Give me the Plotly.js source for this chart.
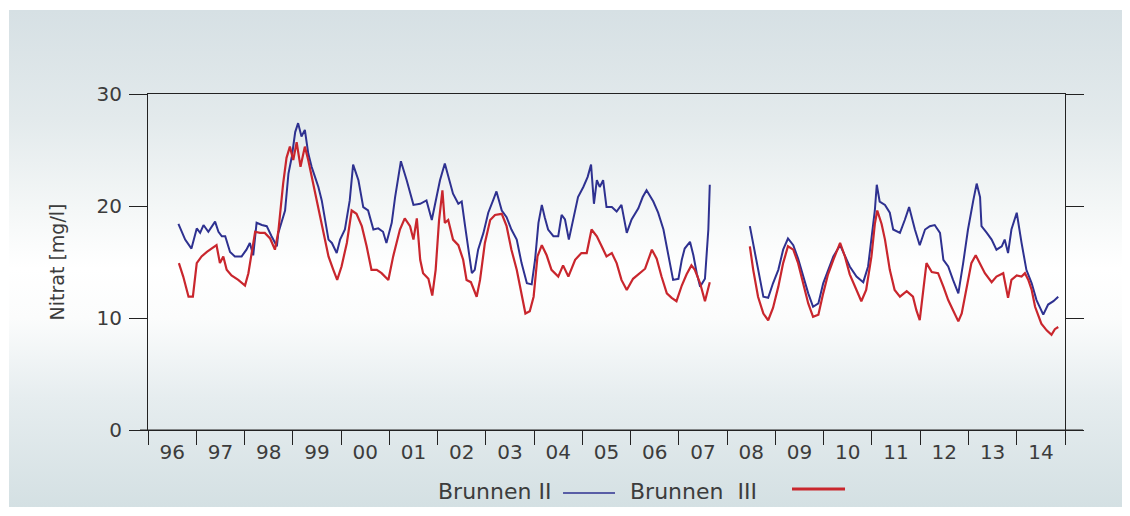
<!DOCTYPE html>
<html>
<head>
<meta charset="utf-8">
<script src="https://cdn.plot.ly/plotly-3.0.1.min.js"></script>
<style>
  html, body { margin:0; padding:0; background:#ffffff; }
  #wrap { position:relative; width:1130px; height:516px; background:#ffffff; }
  #bg { position:absolute; left:9px; top:10px; width:1113px; height:497px;
        background: linear-gradient(to bottom, #d6e0e4 0%, #e3eaec 22%, #f4f7f7 40%, #ffffff 52%, #fbfcfc 62%, #e6edef 78%, #d4e0e3 100%); }
  #chart { position:absolute; left:0; top:0; width:1130px; height:516px; }
</style>
</head>
<body>
<div id="wrap"><div id="bg"></div><div id="chart"></div></div>
<script>
// Decimal years and nitrate values (mg/l)
const blueYears = [1996.63,1996.77,1996.90,1997.01,1997.08,1997.15,1997.25,1997.32,1997.39,1997.46,1997.53,1997.60,1997.70,1997.80,1997.94,1998.04,1998.11,1998.18,1998.25,1998.36,1998.46,1998.56,1998.67,1998.70,1998.77,1998.84,1998.91,1998.98,1999.05,1999.11,1999.18,1999.25,1999.32,1999.39,1999.46,1999.53,1999.60,1999.67,1999.74,1999.81,1999.91,1999.98,2000.08,2000.18,2000.25,2000.36,2000.46,2000.56,2000.67,2000.77,2000.87,2000.94,2001.05,2001.12,2001.24,2001.36,2001.50,2001.64,2001.77,2001.88,2001.98,2002.05,2002.15,2002.22,2002.32,2002.43,2002.50,2002.57,2002.64,2002.71,2002.77,2002.84,2002.95,2003.05,2003.15,2003.22,2003.33,2003.43,2003.53,2003.64,2003.74,2003.85,2003.95,2004.02,2004.09,2004.16,2004.22,2004.29,2004.40,2004.50,2004.57,2004.64,2004.72,2004.81,2004.91,2005.02,2005.11,2005.18,2005.24,2005.30,2005.36,2005.43,2005.50,2005.61,2005.71,2005.81,2005.92,2006.02,2006.16,2006.25,2006.33,2006.47,2006.57,2006.68,2006.78,2006.88,2006.99,2007.06,2007.12,2007.23,2007.30,2007.37,2007.44,2007.54,2007.61,2007.64,2008.05,2008.47,2008.54,2008.64,2008.75,2008.85,2008.95,2009.06,2009.16,2009.26,2009.37,2009.47,2009.58,2009.68,2009.78,2009.89,2009.99,2010.09,2010.20,2010.34,2010.44,2010.54,2010.68,2010.82,2010.92,2010.99,2011.06,2011.10,2011.16,2011.27,2011.37,2011.44,2011.58,2011.68,2011.77,2011.89,2011.99,2012.10,2012.20,2012.30,2012.41,2012.48,2012.58,2012.68,2012.79,2012.89,2012.99,2013.10,2013.17,2013.24,2013.27,2013.38,2013.48,2013.58,2013.69,2013.75,2013.82,2013.89,2014.00,2014.10,2014.20,2014.31,2014.41,2014.55,2014.65,2014.76,2014.86];
const blueValues = [18.4,17.0,16.2,18.0,17.6,18.3,17.7,18.2,18.6,17.7,17.3,17.3,15.9,15.5,15.5,16.1,16.7,15.6,18.5,18.3,18.2,17.3,16.4,17.6,18.5,19.6,22.9,24.4,26.6,27.4,26.2,26.8,24.7,23.5,22.6,21.7,20.5,18.8,17.0,16.7,15.8,17.0,17.9,20.5,23.7,22.3,19.9,19.6,17.9,18.0,17.7,16.7,18.5,20.8,24.0,22.3,20.1,20.2,20.5,18.75,20.8,22.3,23.8,22.6,21.1,20.2,20.4,18.2,16.1,14.0,14.3,16.1,17.6,19.4,20.5,21.3,19.6,19.0,17.9,17.0,14.9,13.1,13.0,15.2,18.5,20.1,19.0,17.9,17.3,17.3,19.2,18.8,17.0,18.8,20.8,21.7,22.6,23.7,20.2,22.3,21.7,22.3,19.9,19.9,19.5,20.1,17.6,18.8,19.8,20.8,21.4,20.4,19.4,17.9,15.8,13.4,13.5,15.2,16.2,16.8,15.6,14.0,12.8,13.5,17.9,21.9,null,18.2,16.7,14.3,11.9,11.8,13.1,14.3,16.1,17.1,16.5,15.3,13.7,12.2,11.0,11.3,13.1,14.3,15.5,16.5,15.6,14.6,13.7,13.2,14.6,17.0,19.6,21.9,20.4,20.1,19.4,17.9,17.6,18.75,19.9,17.9,16.5,17.9,18.2,18.3,17.6,15.2,14.6,13.4,12.2,14.9,17.9,20.5,22.0,20.8,18.2,17.6,17.0,16.1,16.4,17.0,15.8,17.9,19.4,16.7,14.3,13.1,11.6,10.3,11.2,11.5,11.9];

const redYears = [1996.64,1996.73,1996.84,1996.93,1997.01,1997.11,1997.22,1997.32,1997.42,1997.49,1997.56,1997.63,1997.73,1997.87,1998.01,1998.08,1998.15,1998.22,1998.32,1998.42,1998.53,1998.63,1998.70,1998.80,1998.87,1998.94,1999.01,1999.08,1999.16,1999.25,1999.32,1999.42,1999.53,1999.63,1999.74,1999.84,1999.92,2000.01,2000.12,2000.22,2000.32,2000.43,2000.53,2000.63,2000.74,2000.84,2000.98,2001.08,2001.22,2001.32,2001.43,2001.50,2001.57,2001.64,2001.70,2001.81,2001.89,2001.96,2002.03,2002.10,2002.15,2002.22,2002.32,2002.43,2002.53,2002.60,2002.69,2002.81,2002.88,2002.98,2003.09,2003.19,2003.33,2003.43,2003.53,2003.64,2003.74,2003.82,2003.91,2003.99,2004.07,2004.16,2004.26,2004.36,2004.50,2004.60,2004.71,2004.85,2004.98,2005.09,2005.19,2005.30,2005.40,2005.50,2005.61,2005.71,2005.81,2005.92,2006.05,2006.19,2006.30,2006.44,2006.54,2006.64,2006.75,2006.85,2006.95,2007.06,2007.16,2007.26,2007.33,2007.44,2007.54,2007.64,2008.05,2008.47,2008.54,2008.64,2008.75,2008.85,2008.95,2009.06,2009.16,2009.26,2009.37,2009.47,2009.58,2009.68,2009.78,2009.89,2009.99,2010.09,2010.20,2010.34,2010.44,2010.54,2010.68,2010.78,2010.88,2010.99,2011.06,2011.11,2011.20,2011.27,2011.37,2011.47,2011.58,2011.72,2011.85,2011.92,2011.99,2012.06,2012.13,2012.24,2012.37,2012.48,2012.58,2012.68,2012.79,2012.86,2012.96,2013.06,2013.15,2013.24,2013.34,2013.48,2013.58,2013.72,2013.82,2013.89,2014.00,2014.10,2014.17,2014.24,2014.31,2014.38,2014.51,2014.62,2014.72,2014.79,2014.86];
const redValues = [14.9,13.7,11.9,11.9,14.9,15.5,15.9,16.2,16.5,14.9,15.5,14.3,13.8,13.4,12.9,14.0,15.8,17.7,17.6,17.6,17.1,16.1,17.7,22.0,24.3,25.3,24.1,25.7,23.5,25.3,24.1,22.0,19.9,17.6,15.5,14.3,13.4,14.6,16.7,19.6,19.3,18.2,16.4,14.3,14.3,14.0,13.4,15.5,17.9,18.9,18.2,17.0,18.9,15.2,14.0,13.5,12.0,14.3,18.7,21.4,18.5,18.75,17.0,16.5,15.2,13.4,13.2,11.9,13.4,16.7,18.75,19.2,19.3,18.2,16.1,14.3,12.2,10.4,10.6,11.9,15.5,16.5,15.6,14.3,13.7,14.7,13.7,15.2,15.8,15.8,17.9,17.3,16.4,15.5,15.8,14.9,13.4,12.5,13.5,14.0,14.4,16.1,15.3,13.7,12.2,11.8,11.5,12.9,13.9,14.7,14.3,13.1,11.5,13.2,null,16.4,14.3,11.9,10.4,9.8,10.9,12.8,14.9,16.4,16.1,14.9,13.1,11.3,10.1,10.3,12.2,13.9,15.2,16.7,15.5,13.9,12.5,11.5,12.5,15.5,18.4,19.6,18.4,17.0,14.3,12.5,11.9,12.4,11.9,10.7,9.8,12.5,14.9,14.1,14.0,12.8,11.6,10.7,9.7,10.4,12.8,14.9,15.6,14.9,14.0,13.2,13.7,14.0,11.8,13.4,13.8,13.7,14.0,13.4,12.5,11.0,9.5,8.9,8.5,9.0,9.2];

const yearLabels = ['96','97','98','99','00','01','02','03','04','05','06','07','08','09','10','11','12','13','14'];
const yearLabelPos = yearLabels.map((_, i) => 1996.5 + i);
const seriesNames = ['Brunnen II', 'Brunnen  III'];
const yTickVals = [0, 10, 20, 30];

const FONT = 'DejaVu Sans, Liberation Sans, Arial, sans-serif';
const TXT = '#3c3c3c';

const traces = [
  { x: blueYears, y: blueValues, type: 'scatter', mode: 'lines', name: seriesNames[0],
    line: { color: '#2e3190', width: 2 }, connectgaps: false },
  { x: redYears, y: redValues, type: 'scatter', mode: 'lines', name: seriesNames[1],
    line: { color: '#c9262d', width: 2.2 }, connectgaps: false }
];

const layout = {
  width: 1130, height: 516,
  paper_bgcolor: 'rgba(0,0,0,0)', plot_bgcolor: 'rgba(0,0,0,0)',
  margin: { l: 148, r: 65, t: 94, b: 86 },
  showlegend: false,
  font: { family: FONT, color: TXT, size: 20 },
  xaxis: {
    range: [1996, 2015], tickmode: 'array', tickvals: yearLabelPos, ticktext: yearLabels,
    ticks: '', showgrid: false, zeroline: false, showline: true, mirror: true,
    linecolor: '#222', linewidth: 1, ticklabelstandoff: 4,
    tickfont: { family: FONT, size: 20, color: TXT },
    minor: { ticks: 'outside', tickmode: 'linear', tick0: 1996, dtick: 1, ticklen: 14, tickcolor: '#222', tickwidth: 1, showgrid: false }
  },
  yaxis: {
    range: [0, 30], tickmode: 'array', tickvals: yTickVals, ticks: 'outside', ticklen: 18,
    tickcolor: '#222', showgrid: false, zeroline: false, showline: true, mirror: 'ticks',
    linecolor: '#222', linewidth: 1, ticklabelstandoff: 3,
    tickfont: { family: FONT, size: 20, color: TXT },
    title: { text: 'Nitrat [mg/l]', font: { family: FONT, size: 19, color: TXT }, standoff: 26 }
  },
  annotations: [
    { xref: 'paper', yref: 'paper', x: 0.4417, y: -0.1845, xanchor: 'right', yanchor: 'middle',
      text: seriesNames[0], showarrow: false, font: { family: FONT, size: 22, color: TXT } },
    { xref: 'paper', yref: 'paper', x: 0.5234, y: -0.1845, xanchor: 'left', yanchor: 'middle',
      text: seriesNames[1].replace('  ', '&nbsp;&nbsp;'), showarrow: false, font: { family: FONT, size: 22, color: TXT } }
  ],
  shapes: [
    { type: 'line', xref: 'paper', yref: 'paper', x0: -0.0087, x1: 1.0196, y0: 0, y1: 0,
      line: { color: '#222', width: 1 } },
    { type: 'line', xref: 'paper', yref: 'paper', x0: 0.4526, x1: 0.5093, y0: -0.1875, y1: -0.1875,
      line: { color: '#2e3190', width: 1.5 } },
    { type: 'line', xref: 'paper', yref: 'paper', x0: 0.7023, x1: 0.7601, y0: -0.1756, y1: -0.1756,
      line: { color: '#c9262d', width: 3 } }
  ]
};

Plotly.newPlot('chart', traces, layout, { displayModeBar: false, staticPlot: true });
</script>
</body>
</html>
